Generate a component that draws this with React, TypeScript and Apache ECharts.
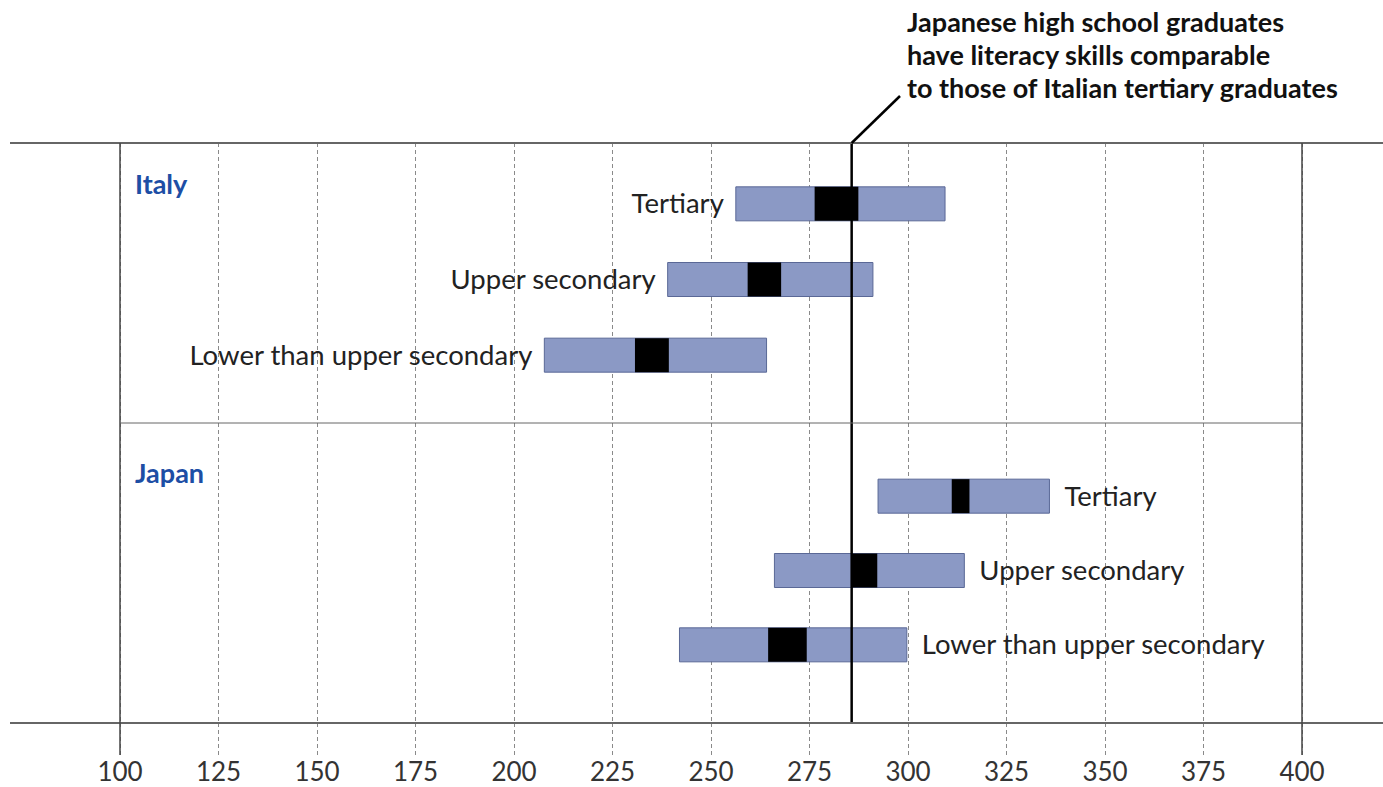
import React, { useEffect, useRef } from "react";
import * as echarts from "echarts";

// ---- data ----
const X_MIN = 100;
const X_MAX = 400;
const X_STEP = 25;

const italyCategories = ["Tertiary", "Upper secondary", "Lower than upper secondary"];
const italyLow = [256.3, 239.0, 207.7];
const italyHigh = [309.4, 291.1, 264.1];
const italyMeanLow = [276.3, 259.3, 230.7];
const italyMeanHigh = [287.4, 267.8, 239.3];

const japanCategories = ["Tertiary", "Upper secondary", "Lower than upper secondary"];
const japanLow = [292.4, 266.1, 242.0];
const japanHigh = [335.9, 314.3, 299.7];
const japanMeanLow = [311.1, 285.8, 264.5];
const japanMeanHigh = [315.6, 292.2, 274.3];

const REF_VALUE = 285.7;
const annotationLines = [
  "Japanese high school graduates",
  "have literacy skills comparable",
  "to those of Italian tertiary graduates",
];
const panelTitles = ["Italy", "Japan"];

// ---- layout ----
const W = 1383;
const H = 787;
const PLOT_LEFT = 120;
const PLOT_RIGHT = 1302;
const PLOT_TOP = 143;
const PLOT_BOTTOM = 723;
const SEP_Y = 423;
const TICK_END = 755;
const FONT = "Lato, 'Open Sans', sans-serif";
const BAR_FILL = "#8b99c5";
const BAR_STROKE = "#5a6896";

function makeRenderItem(cats: string[], side: "left" | "right") {
  return (params: any, api: any) => {
    const idx = api.value(0);
    const pLow = api.coord([api.value(1), idx]);
    const pHigh = api.coord([api.value(2), idx]);
    const pMLo = api.coord([api.value(3), idx]);
    const pMHi = api.coord([api.value(4), idx]);
    const h = 34;
    const y = pLow[1];
    const label = cats[params.dataIndex];
    return {
      type: "group",
      children: [
        {
          type: "rect",
          shape: { x: pLow[0], y: y - h / 2, width: pHigh[0] - pLow[0], height: h },
          style: { fill: BAR_FILL, stroke: BAR_STROKE, lineWidth: 1 },
        },
        {
          type: "rect",
          shape: { x: pMLo[0], y: y - h / 2, width: pMHi[0] - pMLo[0], height: h },
          style: { fill: "#000000" },
        },
        {
          type: "text",
          style: {
            text: label,
            x: side === "left" ? pLow[0] - 12 : pHigh[0] + 15,
            y: y - 1,
            align: side === "left" ? "right" : "left",
            verticalAlign: "middle",
            fill: "#222222",
            fontSize: 27.5,
            fontFamily: FONT,
          },
        },
      ],
    };
  };
}

function buildData(low: number[], high: number[], mlo: number[], mhi: number[]) {
  return low.map((v, i) => [i, v, high[i], mlo[i], mhi[i]]);
}

export default function App() {
  const ref = useRef<HTMLDivElement>(null);

  useEffect(() => {
    if (!ref.current) return;
    const chart = echarts.init(ref.current, undefined, { renderer: "svg" });

    const hiddenX = (gi: number) => ({
      type: "value",
      gridIndex: gi,
      min: X_MIN,
      max: X_MAX,
      interval: X_STEP,
      show: false,
    });

    chart.setOption({
      animation: false,
      backgroundColor: "#ffffff",
      grid: [
        { left: PLOT_LEFT, right: W - PLOT_RIGHT, top: PLOT_TOP, bottom: H - PLOT_BOTTOM },
        { left: PLOT_LEFT, right: W - PLOT_RIGHT, top: 166, bottom: H - 393 },
        { left: PLOT_LEFT, right: W - PLOT_RIGHT, top: 459, bottom: H - 682 },
      ],
      xAxis: [
        {
          type: "value",
          gridIndex: 0,
          min: X_MIN,
          max: X_MAX,
          interval: X_STEP,
          axisLine: { show: true, lineStyle: { color: "#666666", width: 2 } },
          axisTick: {
            show: true,
            length: TICK_END - PLOT_BOTTOM,
            lineStyle: { color: "#8a8a8a", width: 1, type: [4, 3] },
          },
          splitLine: {
            show: true,
            lineStyle: { color: "#8a8a8a", width: 1, type: [4, 3] },
          },
          axisLabel: {
            fontSize: 26,
            fontFamily: FONT,
            color: "#333333",
            margin: 35,
          },
        },
        hiddenX(1),
        hiddenX(2),
      ],
      yAxis: [
        { type: "value", gridIndex: 0, min: 0, max: 1, show: false },
        { type: "category", gridIndex: 1, data: italyCategories, inverse: true, show: false },
        { type: "category", gridIndex: 2, data: japanCategories, inverse: true, show: false },
      ],
      series: [
        {
          type: "custom",
          name: "Italy",
          xAxisIndex: 1,
          yAxisIndex: 1,
          renderItem: makeRenderItem(italyCategories, "left"),
          encode: { y: 0, x: [1, 2, 3, 4] },
          data: buildData(italyLow, italyHigh, italyMeanLow, italyMeanHigh),
          z: 3,
        },
        {
          type: "custom",
          name: "Japan",
          xAxisIndex: 2,
          yAxisIndex: 2,
          renderItem: makeRenderItem(japanCategories, "right"),
          encode: { y: 0, x: [1, 2, 3, 4] },
          data: buildData(japanLow, japanHigh, japanMeanLow, japanMeanHigh),
          z: 3,
        },
        {
          type: "line",
          xAxisIndex: 0,
          yAxisIndex: 0,
          data: [
            [REF_VALUE, 0],
            [REF_VALUE, 1],
          ],
          symbol: "none",
          lineStyle: { color: "#000000", width: 2.5 },
          z: 5,
        },
      ],
    });

    const refX = chart.convertToPixel({ xAxisIndex: 0 }, REF_VALUE) as number;

    chart.setOption({
      graphic: [
        {
          type: "line",
          shape: { x1: 10, y1: PLOT_TOP, x2: W, y2: PLOT_TOP },
          style: { stroke: "#666666", lineWidth: 2 },
          z: 10,
        },
        {
          type: "line",
          shape: { x1: 10, y1: PLOT_BOTTOM, x2: W, y2: PLOT_BOTTOM },
          style: { stroke: "#666666", lineWidth: 2 },
          z: 10,
        },
        {
          type: "line",
          shape: { x1: PLOT_LEFT, y1: PLOT_TOP, x2: PLOT_LEFT, y2: TICK_END },
          style: { stroke: "#444444", lineWidth: 1.5 },
          z: 10,
        },
        {
          type: "line",
          shape: { x1: PLOT_RIGHT, y1: PLOT_TOP, x2: PLOT_RIGHT, y2: TICK_END },
          style: { stroke: "#444444", lineWidth: 1.5 },
          z: 10,
        },
        {
          type: "line",
          shape: { x1: PLOT_LEFT, y1: SEP_Y, x2: PLOT_RIGHT, y2: SEP_Y },
          style: { stroke: "#666666", lineWidth: 1 },
          z: 10,
        },
        {
          type: "line",
          shape: { x1: refX, y1: PLOT_TOP, x2: 900, y2: 96 },
          style: { stroke: "#000000", lineWidth: 2.5 },
          z: 10,
        },
        {
          type: "text",
          x: 907,
          y: 5,
          style: {
            text: annotationLines.join("\n"),
            fill: "#111111",
            fontSize: 27,
            fontWeight: "bold",
            fontFamily: FONT,
            lineHeight: 33,
            align: "left",
            verticalAlign: "top",
          },
          z: 10,
        },
        {
          type: "text",
          x: 135,
          y: 183,
          style: {
            text: panelTitles[0],
            fill: "#1d4ea5",
            fontSize: 27,
            fontWeight: "bold",
            fontFamily: FONT,
            align: "left",
            verticalAlign: "middle",
          },
          z: 10,
        },
        {
          type: "text",
          x: 135,
          y: 472,
          style: {
            text: panelTitles[1],
            fill: "#1d4ea5",
            fontSize: 27,
            fontWeight: "bold",
            fontFamily: FONT,
            align: "left",
            verticalAlign: "middle",
          },
          z: 10,
        },
      ],
    });

    return () => chart.dispose();
  }, []);

  return (
    <div
      ref={ref}
      style={{ position: "fixed", left: 0, top: 0, width: W, height: H, background: "#fff" }}
    />
  );
}
